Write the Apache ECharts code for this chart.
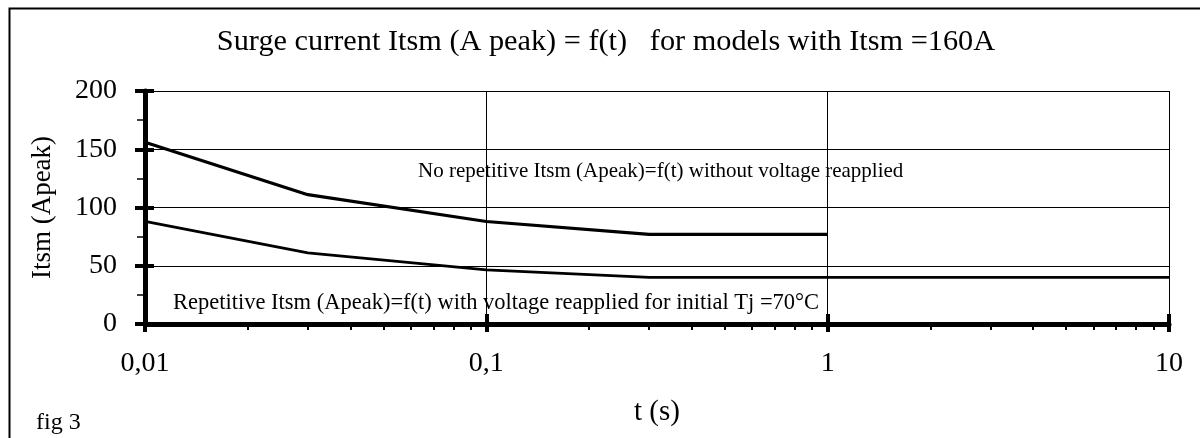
<!DOCTYPE html>
<html>
<head>
<meta charset="utf-8">
<script src="https://cdn.jsdelivr.net/npm/echarts@6/dist/echarts.min.js"></script>
<style>
html,body{margin:0;padding:0;background:#fff;}
#chart{width:1200px;height:438px;}
</style>
</head>
<body>
<div id="chart"></div>
<script>
// ---- data ----
const titleText = 'Surge current Itsm (A peak) = f(t)   for models with Itsm =160A';
const xAxisName = 't (s)';
const yAxisName = 'Itsm (Apeak)';
const tNoRep = [0.01, 0.03, 0.1, 0.3, 1];
const noRepValues = [156, 111, 88, 77, 77];
const tRep = [0.01, 0.03, 0.1, 0.3, 1, 10];
const repValues = [88, 61, 46.5, 40, 40, 40];
const noRepLabel = 'No repetitive Itsm (Apeak)=f(t) without voltage reapplied';
const repLabel = 'Repetitive Itsm (Apeak)=f(t) with voltage reapplied for initial Tj =70°C';
const figLabel = 'fig 3';
const xMin = 0.01, xMax = 10;
const yMin = 0, yMax = 200, yInterval = 50;
const xMinorTicks = [0.02,0.03,0.04,0.05,0.06,0.07,0.08,0.09,0.2,0.3,0.4,0.5,0.6,0.7,0.8,0.9,2,3,4,5,6,7,8,9];

const FONT = '"Liberation Serif", "Times New Roman", serif';
const chart = echarts.init(document.getElementById('chart'), null, {renderer: 'canvas'});

const grid = {left: 145, right: 31, top: 91, bottom: 114};

function xLabel(v) {
  return String(+v.toPrecision(6)).replace('.', ',');
}

chart.setOption({
  backgroundColor: '#fff',
  animation: false,
  title: {
    text: titleText,
    left: 601, top: 22, textAlign: 'center',
    textStyle: {fontFamily: FONT, fontSize: 30.3, fontWeight: 'normal', color: '#000'}
  },
  grid: grid,
  xAxis: [
    {
      type: 'log', logBase: 10, min: xMin, max: xMax, position: 'bottom',
      name: xAxisName, nameLocation: 'middle', nameGap: 74,
      nameTextStyle: {fontFamily: FONT, fontSize: 29, color: '#000'},
      axisLine: {lineStyle: {color: '#000', width: 5}},
      axisTick: {inside: true, length: 10, lineStyle: {color: '#000', width: 4}},
      minorTick: {show: false},
      axisLabel: {fontFamily: FONT, fontSize: 28, color: '#000', margin: 26, formatter: xLabel},
      splitLine: {show: true, lineStyle: {color: '#000', width: 1}}
    },
    {
      type: 'log', logBase: 10, min: xMin, max: xMax, position: 'bottom',
      axisLine: {show: false},
      axisTick: {inside: false, length: 8, lineStyle: {color: '#000', width: 4}},
      axisLabel: {show: false},
      splitLine: {show: false}
    },
    {
      type: 'log', logBase: 10, min: xMin, max: xMax, position: 'bottom',
      axisLine: {show: false},
      axisTick: {inside: false, length: 6, customValues: xMinorTicks, lineStyle: {color: '#000', width: 2}},
      axisLabel: {show: false},
      splitLine: {show: false}
    }
  ],
  yAxis: [
    {
      type: 'value', min: yMin, max: yMax, interval: yInterval, position: 'left',
      name: yAxisName, nameLocation: 'middle', nameGap: 89, nameRotate: 90,
      nameTextStyle: {fontFamily: FONT, fontSize: 27, color: '#000'},
      axisLine: {show: true, lineStyle: {color: '#000', width: 5}},
      axisTick: {show: true, inside: false, length: 10, lineStyle: {color: '#000', width: 4}},
      minorTick: {show: true, splitNumber: 2, length: 8, lineStyle: {color: '#000', width: 1.5}},
      axisLabel: {fontFamily: FONT, fontSize: 28, color: '#000', margin: 28},
      splitLine: {show: true, lineStyle: {color: '#000', width: 1}}
    },
    {
      type: 'value', min: yMin, max: yMax, interval: yInterval, position: 'left',
      axisLine: {show: false},
      axisTick: {show: true, inside: true, length: 9, lineStyle: {color: '#000', width: 4}},
      axisLabel: {show: false},
      splitLine: {show: false}
    }
  ],
  series: [
    {
      type: 'line', xAxisIndex: 0, yAxisIndex: 0,
      data: tNoRep.map((t, i) => [t, noRepValues[i]]),
      showSymbol: false, symbol: 'none',
      lineStyle: {color: '#000', width: 3.2}, z: 5
    },
    {
      type: 'line', xAxisIndex: 0, yAxisIndex: 0,
      data: tRep.map((t, i) => [t, repValues[i]]),
      showSymbol: false, symbol: 'none',
      lineStyle: {color: '#000', width: 2.8}, z: 5
    }
  ],
  graphic: [
    {type: 'rect', left: 7, top: 6, shape: {width: 1300, height: 600},
     style: {fill: 'none', stroke: '#000', lineWidth: 2}, z: 100},
    {type: 'text', x: 418, y: 171,
     style: {text: noRepLabel, fontFamily: FONT, fontSize: 21, fill: '#000', textVerticalAlign: 'middle'}, z: 50},
    {type: 'text', x: 173, y: 303,
     style: {text: repLabel, fontFamily: FONT, fontSize: 22.5, fill: '#000', textVerticalAlign: 'middle'}, z: 50},
    {type: 'text', x: 36, y: 423,
     style: {text: figLabel, fontFamily: FONT, fontSize: 24, fill: '#000', textVerticalAlign: 'middle'}, z: 50}
  ]
});
</script>
</body>
</html>
